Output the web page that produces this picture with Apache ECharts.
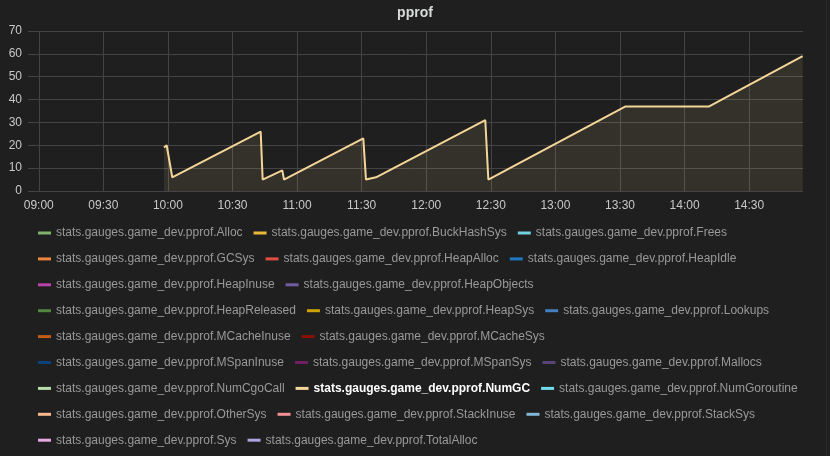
<!DOCTYPE html>
<html><head><meta charset="utf-8">
<script src="https://cdn.jsdelivr.net/npm/echarts@6/dist/echarts.min.js"></script>
<style>html,body{margin:0;padding:0;background:#1f1f1f}#c{width:830px;height:456px}</style>
</head><body><div id="c"></div>
<script>
const prefix = 'stats.gauges.game_dev.pprof.';
const seriesNames = ['Alloc','BuckHashSys','Frees','GCSys','HeapAlloc','HeapIdle','HeapInuse','HeapObjects',
  'HeapReleased','HeapSys','Lookups','MCacheInuse','MCacheSys','MSpanInuse','MSpanSys','Mallocs',
  'NumCgoCall','NumGC','NumGoroutine','OtherSys','StackInuse','StackSys','Sys','TotalAlloc'];
const seriesColors = ['#7EB26D','#EAB839','#6ED0E0','#EF843C','#E24D42','#1F78C1','#BA43A9','#705DA0',
  '#508642','#CCA300','#447EBC','#C15C17','#890F02','#0A437C','#6D1F62','#584477',
  '#B7DBAB','#F4D598','#70DBED','#F9BA8F','#F29191','#82B5D8','#E5A8E2','#AEA2E0'];
const legendRows = [
  ['Alloc','BuckHashSys','Frees'],
  ['GCSys','HeapAlloc','HeapIdle'],
  ['HeapInuse','HeapObjects'],
  ['HeapReleased','HeapSys','Lookups'],
  ['MCacheInuse','MCacheSys'],
  ['MSpanInuse','MSpanSys','Mallocs'],
  ['NumCgoCall','NumGC','NumGoroutine'],
  ['OtherSys','StackInuse','StackSys'],
  ['Sys','TotalAlloc']
];
const highlighted = 'NumGC';
// NumGC samples (time, value)
const gcTimes  = ['09:58:10','09:59:25','10:00:10','10:02:00','10:43:05','10:44:00','10:53:08','10:53:55',
  '11:30:45','11:32:00','11:36:40','12:27:25','12:28:50','13:32:35','14:11:25','14:54:50'];
const gcValues = [19,20,20,6,26,5,9,5,23,5,6,31,5,37,37,59];
const xTickLabels = ['09:00','09:30','10:00','10:30','11:00','11:30','12:00','12:30','13:00','13:30','14:00','14:30'];
const xMin = '08:55:00', xMax = '14:55:00';

// seconds since midnight
function t(s){ const p = s.split(':').map(Number); return p[0]*3600 + p[1]*60 + (p[2]||0); }
function pad(n){ return (n<10?'0':'')+n; }
function fmt(v){ const h = Math.floor(v/3600), m = Math.round((v - h*3600)/60); return pad(h)+':'+pad(m); }

const gcData = gcTimes.map((s,i)=>[t(s), gcValues[i]]);
const xTicks = xTickLabels.map(t);
const FONT = 'Liberation Sans, Arial, Helvetica, sans-serif';

const chart = echarts.init(document.getElementById('c'), null, {renderer:'canvas'});
chart.setOption({
  backgroundColor: '#1f1f1f',
  animation: false,
  textStyle: { fontFamily: FONT },
  title: { text: 'pprof', left: 'center', top: 6, padding: 0,
    textStyle: { color: '#d8d9da', fontSize: 14, fontWeight: 'bold', fontFamily: FONT } },
  grid: { left: 28, right: 27, top: 31, bottom: 265 },
  xAxis: {
    type: 'value', min: t(xMin), max: t(xMax),
    axisLine: { show: false },
    axisTick: { show: false, customValues: xTicks },
    axisLabel: { color: '#c8c8c8', fontSize: 12, margin: 9, fontFamily: FONT,
      customValues: xTicks, hideOverlap: false, formatter: v => fmt(v) },
    splitLine: { show: true, lineStyle: { color: '#444', width: 1 } }
  },
  yAxis: {
    type: 'value', min: 0, max: 70, interval: 10,
    axisLine: { show: false }, axisTick: { show: false },
    axisLabel: { color: '#c8c8c8', fontSize: 12, margin: 6, fontFamily: FONT },
    splitLine: { lineStyle: { color: '#444', width: 1 } }
  },
  legend: legendRows.map((row, i) => ({
    left: 38, top: 227 + i*25.9, padding: 0, orient: 'horizontal',
    icon: 'rect', itemWidth: 13, itemHeight: 3, itemGap: 11, selectedMode: false,
    textStyle: { color: '#999', fontSize: 12, fontFamily: FONT },
    data: row.map(n => n === highlighted
      ? { name: prefix+n, textStyle: { color: '#ffffff', fontWeight: 'bold' } }
      : { name: prefix+n })
  })),
  graphic: [{ type: 'line', shape: { x1: 826.5, y1: 0, x2: 826.5, y2: 456 }, style: { stroke: '#2a2a2a', lineWidth: 1 } }],
  series: seriesNames.map((n, i) => ({
    type: 'line', name: prefix+n, color: seriesColors[i],
    data: n === highlighted ? gcData : [],
    showSymbol: false, symbol: 'none',
    lineStyle: { width: 2, color: seriesColors[i] },
    areaStyle: { color: seriesColors[i], opacity: 0.1 }
  }))
});
</script></body></html>
